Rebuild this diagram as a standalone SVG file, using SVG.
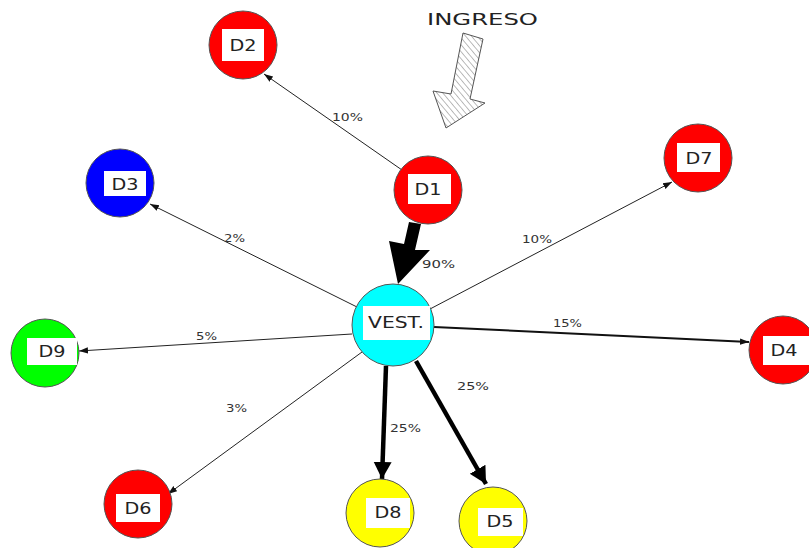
<svg xmlns="http://www.w3.org/2000/svg" width="809" height="548" viewBox="0 0 809 548">
<style>
.node{stroke:#555;stroke-width:1}
.lab{fill:#fff}
.nt{font-family:"DejaVu Sans",sans-serif;font-size:16px;fill:#222;text-anchor:middle}
.pt{font-family:"DejaVu Sans",sans-serif;font-size:11px;fill:#333}
.thin{stroke:#222;stroke-width:1;fill:none}
.mid{stroke:#111;stroke-width:2;fill:none}
.thick{stroke:#000;stroke-width:4.5;fill:none}
</style>
<defs>
<marker id="ah" markerUnits="userSpaceOnUse" markerWidth="10" markerHeight="8" refX="9" refY="4" orient="auto">
<path d="M0,0.8 L9,4 L0,7.2 Z" fill="#111"/>
</marker>
<marker id="ahb" markerUnits="userSpaceOnUse" markerWidth="20" markerHeight="20" refX="17" refY="10" orient="auto">
<path d="M0,1 L17,10 L0,19 Z" fill="#000"/>
</marker>
<pattern id="hatch" patternUnits="userSpaceOnUse" width="4.5" height="4.5" patternTransform="rotate(-40)">
<line x1="0" y1="0" x2="0" y2="4.5" stroke="#777" stroke-width="1"/>
</pattern>
</defs>
<rect width="809" height="548" fill="#fff"/>

<g id="ingreso">
<text x="427" y="25" font-family="DejaVu Sans,sans-serif" font-size="15" fill="#222" textLength="111" lengthAdjust="spacingAndGlyphs">INGRESO</text>
<polygon points="463,33 483,39 470,99 485,103 446,128 433,91 451,94" fill="url(#hatch)" stroke="#555" stroke-width="1"/>
</g>

<g id="connectors">
<line class="thin" x1="402" y1="170" x2="264" y2="74" marker-end="url(#ah)"/>
<path d="M409,222 L421,224 L415,250 L430,250 L398,284 L389,241 L404,244 Z" fill="#000"/>
<line class="thin" x1="357" y1="307" x2="150" y2="204" marker-end="url(#ah)"/>
<line class="thin" x1="352" y1="334" x2="79" y2="351" marker-end="url(#ah)" stroke="#333"/>
<line class="thin" x1="362" y1="352" x2="168" y2="494" marker-end="url(#ah)" stroke="#555" stroke-width="0.8"/>
<line class="thick" x1="386" y1="366" x2="382" y2="479" marker-end="url(#ahb)"/>
<line class="thick" x1="416" y1="361" x2="486" y2="484" marker-end="url(#ahb)"/>
<line class="mid" x1="434" y1="327" x2="749" y2="342" marker-end="url(#ah)"/>
<line class="thin" x1="430" y1="309" x2="672" y2="182" marker-end="url(#ah)" stroke-width="1.7"/>
<text class="pt" x="332" y="121" textLength="31" lengthAdjust="spacingAndGlyphs">10%</text>
<text class="pt" x="422" y="268" textLength="33" lengthAdjust="spacingAndGlyphs">90%</text>
<text class="pt" x="224" y="242" textLength="21" lengthAdjust="spacingAndGlyphs">2%</text>
<text class="pt" x="196" y="340" textLength="21" lengthAdjust="spacingAndGlyphs">5%</text>
<text class="pt" x="226" y="412" textLength="21" lengthAdjust="spacingAndGlyphs">3%</text>
<text class="pt" x="390" y="432" textLength="31" lengthAdjust="spacingAndGlyphs">25%</text>
<text class="pt" x="457" y="390" textLength="32" lengthAdjust="spacingAndGlyphs">25%</text>
<text class="pt" x="553" y="327" textLength="29" lengthAdjust="spacingAndGlyphs">15%</text>
<text class="pt" x="522" y="243" textLength="30" lengthAdjust="spacingAndGlyphs">10%</text>
</g>

<g id="D2"><circle class="node" cx="243" cy="45" r="34" fill="#ff0000"/><rect class="lab" x="222" y="29" width="42" height="32"/><text class="nt" x="243" y="51" textLength="27" lengthAdjust="spacingAndGlyphs">D2</text></g>
<g id="D1"><circle class="node" cx="428" cy="190" r="34" fill="#ff0000"/><rect class="lab" x="408" y="174" width="43" height="30"/><text class="nt" x="428" y="195" textLength="27" lengthAdjust="spacingAndGlyphs">D1</text></g>
<g id="D3"><circle class="node" cx="120" cy="183" r="34" fill="#0000ff"/><rect class="lab" x="104" y="171" width="42" height="25"/><text class="nt" x="125" y="190" textLength="27" lengthAdjust="spacingAndGlyphs">D3</text></g>
<g id="D7"><circle class="node" cx="698" cy="158" r="34" fill="#ff0000"/><rect class="lab" x="677" y="143" width="43" height="29"/><text class="nt" x="699" y="164" textLength="27" lengthAdjust="spacingAndGlyphs">D7</text></g>
<g id="VEST"><circle class="node" cx="393" cy="325" r="41" fill="#00ffff"/><rect class="lab" x="363" y="306" width="67" height="34"/><text class="nt" x="396" y="328" font-size="13" textLength="56" lengthAdjust="spacingAndGlyphs">VEST.</text></g>
<g id="D9"><circle class="node" cx="45" cy="353" r="34" fill="#00ff00"/><rect class="lab" x="27" y="338" width="50" height="27"/><text class="nt" x="52" y="357" textLength="27" lengthAdjust="spacingAndGlyphs">D9</text></g>
<g id="D4"><circle class="node" cx="783" cy="350" r="34" fill="#ff0000"/><rect class="lab" x="763" y="336" width="46" height="29"/><text class="nt" x="784" y="356" textLength="27" lengthAdjust="spacingAndGlyphs">D4</text></g>
<g id="D6"><circle class="node" cx="138" cy="504" r="34" fill="#ff0000"/><rect class="lab" x="116" y="494" width="44" height="28"/><text class="nt" x="138" y="514" textLength="27" lengthAdjust="spacingAndGlyphs">D6</text></g>
<g id="D8"><circle class="node" cx="380" cy="513" r="34" fill="#ffff00"/><rect class="lab" x="366" y="498" width="44" height="30"/><text class="nt" x="388" y="518" textLength="27" lengthAdjust="spacingAndGlyphs">D8</text></g>
<g id="D5"><circle class="node" cx="493" cy="521" r="34" fill="#ffff00"/><rect class="lab" x="478" y="508" width="45" height="28"/><text class="nt" x="500" y="527" textLength="27" lengthAdjust="spacingAndGlyphs">D5</text></g>
</svg>
